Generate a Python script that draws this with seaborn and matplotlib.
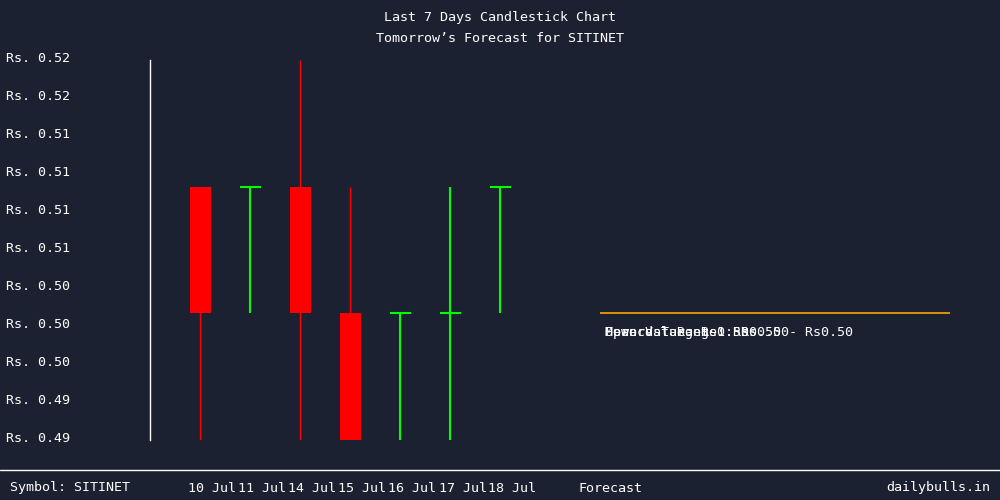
import numpy as np
import matplotlib
matplotlib.use("Agg")
import matplotlib.pyplot as plt
import matplotlib.transforms as mtransforms
import seaborn as sns

# candle data
dates = ["10 Jul", "11 Jul", "14 Jul", "15 Jul", "16 Jul", "17 Jul", "18 Jul"]
opens = [0.51, 0.51, 0.51, 0.50, 0.50, 0.50, 0.51]
closes = [0.50, 0.51, 0.50, 0.49, 0.50, 0.50, 0.51]
highs = [0.51, 0.51, 0.52, 0.51, 0.50, 0.51, 0.51]
lows = [0.49, 0.50, 0.49, 0.49, 0.49, 0.49, 0.50]

forecast_value = 0.50
forecast_texts = ["Mean Value: Rs0.50", "Upward Target 1: Rs0.50", "Forecast Range: Rs0.50 - Rs0.50"]
symbol = "SITINET"

bg = "#1b2130"
sns.set_theme(style="dark", rc={"axes.facecolor": bg, "figure.facecolor": bg})
plt.rcParams['font.family'] = ['DejaVu Sans Mono', 'DejaVu Sans']
plt.rcParams['font.size'] = 9.6

fig = plt.figure(figsize=(10, 5), dpi=100)
ax = fig.add_axes([0.15, 0.12, 0.80, 0.76])
ax.set_facecolor(bg)

x = np.arange(len(dates))
for i in x:
    up = closes[i] >= opens[i]
    col = "#00ff00" if up else "#ff0000"
    ax.vlines(i, lows[i], highs[i], color=col, lw=1.5 if up else 1)
    if up:
        ax.hlines(opens[i], i - 0.21, i + 0.21, color=col, lw=1.5)
    else:
        ax.bar(i, opens[i] - closes[i], bottom=closes[i], width=0.42, color=col, linewidth=0)

# forecast line
ax.hlines(forecast_value, 8, 15, color="orange", lw=1.2)
for t in forecast_texts:
    ax.text(8.1, forecast_value - 0.0015, t, color="white", ha="left", va="center", fontsize=9.6)

ax.set_xlim(-1, 15)
ax.set_ylim(0.49, 0.52)
yt = np.linspace(0.49, 0.52, 11)
ax.set_yticks(yt)
ax.set_yticklabels([f"Rs. {v:.2f}" for v in yt], color="white", ha="left", va="center", fontsize=9.6)
ax.tick_params(axis="y", length=0, pad=104)
for lab in ax.get_yticklabels():
    lab.set_transform(lab.get_transform() + mtransforms.ScaledTranslation(0, 2 / 100, fig.dpi_scale_trans))
ax.set_xticks([])
ax.grid(False)
for s in ["top", "right", "bottom"]:
    ax.spines[s].set_visible(False)
ax.spines["left"].set_color("white")
ax.spines["left"].set_linewidth(1)

# titles
fig.text(0.5, 0.964, "Last 7 Days Candlestick Chart", color="white", ha="center", va="center")
fig.text(0.5, 0.924, f"Tomorrow\u2019s Forecast for {symbol}", color="white", ha="center", va="center")

# footer band
fig.add_artist(plt.Line2D([0, 1], [0.06, 0.06], color="white", lw=1, transform=fig.transFigure))
fig.text(0.01, 0.024, f"Symbol: {symbol}", color="white", ha="left", va="center")
blend = mtransforms.blended_transform_factory(ax.transData, fig.transFigure)
for i, d in enumerate(dates):
    fig.text(i + 0.25, 0.024, d, color="white", ha="center", va="center", transform=blend)
fig.text(0.611, 0.024, "Forecast", color="white", ha="center", va="center")
fig.text(0.99, 0.024, "dailybulls.in", color="white", ha="right", va="center")

fig.savefig("out.png", dpi=100, facecolor=bg)
